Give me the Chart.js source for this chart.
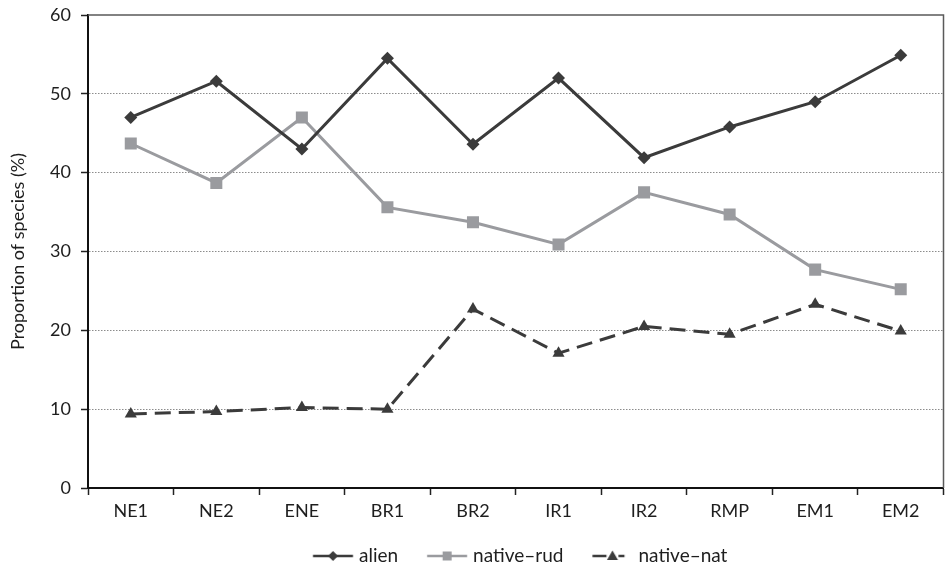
<!DOCTYPE html>
<html>
<head>
<meta charset="utf-8">
<script src="https://cdn.jsdelivr.net/npm/chart.js@4.4.1/dist/chart.umd.min.js"></script>
<style>
html,body{margin:0;padding:0;background:#fff;}
#wrap{width:952px;height:570px;position:relative;}
</style>
</head>
<body>
<div id="wrap"><canvas id="c" width="952" height="570"></canvas></div>
<script>
const categories = ["NE1","NE2","ENE","BR1","BR2","IR1","IR2","RMP","EM1","EM2"];
const alien     = [47.0, 51.6, 43.0, 54.5, 43.6, 52.0, 41.9, 45.8, 49.0, 54.9];
const nativeRud = [43.7, 38.7, 47.0, 35.6, 33.7, 30.9, 37.5, 34.7, 27.7, 25.2];
const nativeNat = [9.4, 9.7, 10.2, 10.0, 22.7, 17.1, 20.5, 19.5, 23.3, 19.9];
const seriesNames = ["alien", "native\u2013rud", "native\u2013nat"];
const yTicks = [0, 10, 20, 30, 40, 50, 60];

const FONT = "Lato";
const TEXT = "#1e1e1e";
const dark = "#3b3b3b";
const grey = "#9a9b9f";

const LEAD = 25;          // blank space before each legend icon
const BOXW = LEAD + 36.5; // legend box width
// legend icon image: 80 wide, centered on the box; icon (line + marker) starts at LEAD in the box
function legendIcon(kind){
  const cv = document.createElement('canvas');
  cv.width = 80; cv.height = 14;
  const g = cv.getContext('2d');
  const o = LEAD + (80 - BOXW) / 2;
  g.lineWidth = 2.5;
  if(kind === 0){
    g.strokeStyle = dark; g.beginPath(); g.moveTo(o,7); g.lineTo(o+40,7); g.stroke();
    g.fillStyle = dark; g.beginPath(); g.moveTo(o+20,2); g.lineTo(o+25,7); g.lineTo(o+20,12); g.lineTo(o+15,7); g.closePath(); g.fill();
  } else if(kind === 1){
    g.strokeStyle = grey; g.beginPath(); g.moveTo(o,7); g.lineTo(o+40,7); g.stroke();
    g.fillStyle = grey; g.fillRect(o+15.5,2.5,9,9);
  } else {
    g.strokeStyle = dark; g.beginPath(); g.moveTo(o,7); g.lineTo(o+14,7); g.moveTo(o+26,7); g.lineTo(o+32,7); g.stroke();
    g.fillStyle = dark; g.beginPath(); g.moveTo(o+20,1.5); g.lineTo(o+25.5,11); g.lineTo(o+14.5,11); g.closePath(); g.fill();
  }
  return cv;
}
const icons = [legendIcon(0), legendIcon(1), legendIcon(2)];

const framePlugin = {
  id: 'frame',
  beforeDraw(chart){
    const lg = chart.legend;
    if(!lg || !lg.legendHitBoxes.length) return;
    const hb = lg.legendHitBoxes;
    const dx = (313 - LEAD) - hb[0].left;
    const dy = (556 - 9.5) - hb[0].top;
    lg.left += dx; lg.right += dx; lg.top += dy; lg.bottom += dy;
    hb.forEach(h => { h.left += dx; h.top += dy; });
  },
  beforeDatasetsDraw(chart){
    const {ctx, chartArea:a} = chart;
    ctx.save();
    ctx.strokeStyle = "#5a5a5a";
    ctx.lineWidth = 1.5;
    ctx.beginPath();
    ctx.moveTo(a.left, a.top); ctx.lineTo(a.right, a.top); ctx.lineTo(a.right, a.bottom);
    ctx.stroke();
    ctx.restore();
  }
};

new Chart(document.getElementById('c'), {
  type: 'line',
  data: {
    labels: categories,
    datasets: [
      { label: seriesNames[0], data: alien, borderColor: dark, backgroundColor: dark, borderWidth: 3,
        pointStyle: 'rectRot', pointRadius: 6.5, pointHoverRadius: 6.5, pointBorderWidth: 0, tension: 0 },
      { label: seriesNames[1], data: nativeRud, borderColor: grey, backgroundColor: grey, borderWidth: 3,
        pointStyle: 'rect', pointRadius: 8.5, pointHoverRadius: 8.5, pointBorderWidth: 0, tension: 0 },
      { label: seriesNames[2], data: nativeNat, borderColor: dark, backgroundColor: dark, borderWidth: 3,
        borderDash: [16, 8], pointStyle: 'triangle', pointRadius: 7, pointHoverRadius: 7, pointBorderWidth: 0, tension: 0 }
    ]
  },
  options: {
    responsive: false,
    animation: false,
    layout: { padding: { left: 0, right: 4, top: 15, bottom: 0 } },
    plugins: {
      tooltip: { enabled: false },
      legend: {
        position: 'bottom',
        labels: {
          font: { family: FONT, size: 19 },
          color: TEXT,
          usePointStyle: true,
          pointStyleWidth: BOXW,
          boxHeight: 14,
          padding: 4,
          generateLabels(chart){
            return chart.data.datasets.map((d, i) => ({
              text: d.label, pointStyle: icons[i], fillStyle: 'transparent', strokeStyle: 'transparent',
              lineWidth: 0, hidden: false, datasetIndex: i, fontColor: TEXT
            }));
          }
        }
      }
    },
    scales: {
      x: {
        type: 'category',
        offset: true,
        grid: { display: true, drawOnChartArea: false, offset: true, tickLength: 7, tickColor: '#222', tickWidth: 1.5 },
        border: { display: true, color: '#111', width: 2 },
        ticks: { font: { family: FONT, size: 18 }, color: TEXT, padding: 5 },
        afterFit(s){ s.height = 49; s.paddingLeft = 0; s.paddingRight = 0; }
      },
      y: {
        min: 0, max: 60,
        afterBuildTicks(s){ s.ticks = yTicks.map(v => ({ value: v })); },
        grid: {
          drawOnChartArea: true,
          color: ctx => (ctx.tick && (ctx.tick.value === 0 || ctx.tick.value === 60)) ? 'rgba(0,0,0,0)' : '#8c8c8c',
          lineWidth: 1,
          tickLength: 7, tickColor: '#222', tickWidth: 1.5, tickBorderDash: []
        },
        border: { display: true, color: '#111', width: 2, dash: [1.5, 1.5] },
        ticks: { font: { family: FONT, size: 18 }, color: TEXT, padding: 10 },
        title: { display: true, text: 'Proportion of species (%)', font: { family: FONT, size: 18 }, color: TEXT, padding: { top: 7, bottom: 0 } },
        afterFit(s){ s.width = 88; s.paddingTop = 0; s.paddingBottom = 0; }
      }
    }
  },
  plugins: [framePlugin]
});
</script>
</body>
</html>
